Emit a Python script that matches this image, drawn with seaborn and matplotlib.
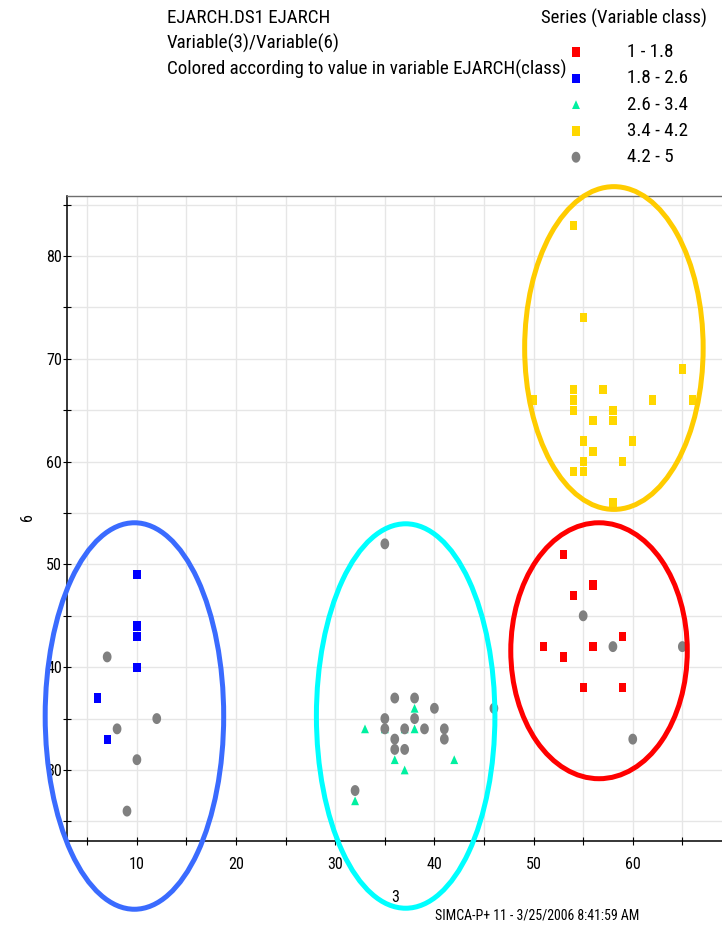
import matplotlib
matplotlib.use("Agg")
import matplotlib.pyplot as plt
from matplotlib import font_manager
from matplotlib.patches import Ellipse
from matplotlib.ticker import MultipleLocator
import numpy as np
import pandas as pd
import seaborn as sns

# EJARCH(class) bins
class_labels = ["1 - 1.8", "1.8 - 2.6", "2.6 - 3.4", "3.4 - 4.2", "4.2 - 5"]
class_colors = ["#ff0000", "#0000ff", "#00f0a0", "#ffd700", "#808080"]

# Variable(3) / Variable(6) observations per class
var3_c1 = [53, 56, 54, 59, 51, 56, 53, 55, 59]
var6_c1 = [51, 48, 47, 43, 42, 42, 41, 38, 38]

var3_c2 = [10, 10, 10, 10, 6, 7]
var6_c2 = [49, 44, 43, 40, 37, 33]

var3_c3 = [38, 33, 35, 37, 38, 36, 37, 42, 32]
var6_c3 = [36, 34, 34, 34, 34, 31, 30, 31, 27]

var3_c4 = [54, 55, 65, 54, 57, 50, 54, 62, 66, 54, 58, 56, 58, 55, 60, 56, 55, 59, 54, 55, 58]
var6_c4 = [83, 74, 69, 67, 67, 66, 66, 66, 66, 65, 65, 64, 64, 62, 62, 61, 60, 60, 59, 59, 56]

var3_c5 = [7, 12, 8, 10, 9, 35, 36, 38, 40, 46, 35, 38, 35, 37, 39, 41, 36, 41, 36, 37, 32, 55, 58, 65, 60]
var6_c5 = [41, 35, 34, 31, 26, 52, 37, 37, 36, 36, 35, 35, 34, 34, 34, 34, 33, 33, 32, 32, 28, 45, 42, 42, 33]

# group outlines (center x, center y, width, height)
group_cx = [9.75, 37.1, 56.6, 58.1]
group_cy = [35.25, 35.25, 41.6, 71.05]
group_w = [18.0, 18.0, 17.8, 18.0]
group_h = [37.6, 37.4, 24.9, 31.4]
group_colors = ["#3a6bff", "#00ffff", "#ff0000", "#ffcc00"]

header_lines = ["EJARCH.DS1 EJARCH", "Variable(3)/Variable(6)",
                "Colored according to value in variable EJARCH(class)"]
legend_title = "Series (Variable class)"
footer = "SIMCA-P+ 11 - 3/25/2006 8:41:59 AM"

# slightly tall marker shapes
_t = np.linspace(0, 2 * np.pi, 40, endpoint=False)
TALL_SQUARE = [(-0.39, -0.5), (0.39, -0.5), (0.39, 0.5), (-0.39, 0.5)]
TALL_TRIANGLE = [(0.0, 0.5), (-0.45, -0.5), (0.45, -0.5)]
TALL_CIRCLE = list(zip(0.4 * np.cos(_t), 0.5 * np.sin(_t)))
class_markers = [TALL_SQUARE, TALL_SQUARE, TALL_TRIANGLE, TALL_SQUARE, TALL_CIRCLE]
class_sizes = [44, 44, 40, 44, 62]

sns.set_theme(style="white")
_names = {f.name for f in font_manager.fontManager.ttflist}
FONT = next((n for n in ["Liberation Sans Narrow", "Arial Narrow", "Roboto Condensed",
                         "Pragati Narrow", "Archivo Narrow", "Liberation Sans"]
             if n in _names), "DejaVu Sans")
plt.rcParams["font.family"] = [FONT, "DejaVu Sans"]
plt.rcParams["text.color"] = "black"
plt.rcParams["axes.labelcolor"] = "black"

W, H = 722, 927
fig = plt.figure(figsize=(W / 100, H / 100), dpi=100)
fig.patch.set_facecolor("white")
ax = fig.add_axes([67 / W, 1 - 841 / H, (W - 67) / W, (841 - 196) / H])
ax.set_facecolor("white")

xs = [var3_c1, var3_c2, var3_c3, var3_c4, var3_c5]
ys = [var6_c1, var6_c2, var6_c3, var6_c4, var6_c5]
for lab, col, mk, sz, x, y in zip(class_labels, class_colors, class_markers,
                                  class_sizes, xs, ys):
    df = pd.DataFrame({"var3": x, "var6": y})
    sns.scatterplot(data=df, x="var3", y="var6", ax=ax, color=col, marker=mk,
                    s=sz, linewidth=0, edgecolor="none", label=lab, zorder=3)

for cx, cy, w, h, c in zip(group_cx, group_cy, group_w, group_h, group_colors):
    ax.add_patch(Ellipse((cx, cy), w, h, fill=False, edgecolor=c,
                         linewidth=3.6, clip_on=False, zorder=4))

ax.set_xlim(2.95, 69.0)
ax.set_ylim(23.09, 85.84)
ax.xaxis.set_major_locator(MultipleLocator(10))
ax.xaxis.set_minor_locator(MultipleLocator(5))
ax.yaxis.set_major_locator(MultipleLocator(10))
ax.yaxis.set_minor_locator(MultipleLocator(5))
ax.grid(True, which="both", color="#e6e6e6", linewidth=1.0, zorder=0)
ax.set_axisbelow(True)

ax.tick_params(axis="both", which="both", direction="inout", length=5.5,
               width=0.8, color="black", labelcolor="black",
               labelsize=10.5, bottom=True, left=True)
ax.tick_params(axis="x", which="both", pad=9.0)
ax.tick_params(axis="y", which="both", pad=0.8)

for side in ["left", "bottom"]:
    ax.spines[side].set_color("black")
    ax.spines[side].set_linewidth(1.1)
ax.spines["top"].set_color("#6e6e6e")
ax.spines["top"].set_linewidth(1.0)
ax.spines["right"].set_visible(False)

ax.set_xlabel("3", fontsize=10.5)
ax.set_ylabel("6", fontsize=10.5)

header_texts = [fig.text(167 / W, 1 - (18 + 25.5 * i) / H, line, ha="left",
                         va="center", fontsize=12)
                for i, line in enumerate(header_lines)]
title_text = fig.text(541 / W, 1 - 18 / H, legend_title, ha="left",
                      va="center", fontsize=12)
footer_text = fig.text(537 / W, 1 - 916 / H, footer, ha="center",
                       va="center", fontsize=8.75)

# size the text so its printed widths come out as wanted
fig.canvas.draw()
R = fig.canvas.get_renderer()


def width_px(artist):
    return artist.get_window_extent(R).width


fs_text = 12 * 398 / width_px(header_texts[2])
for t in header_texts:
    t.set_fontsize(fs_text)
title_text.set_fontsize(12 * 166 / width_px(title_text))
footer_text.set_fontsize(8.75 * 205 / width_px(footer_text))
tick60 = [t for t in ax.get_xticklabels() if t.get_text() == "60"][0]
fs_tick = 10.5 * 16.3 / width_px(tick60)
ax.tick_params(axis="both", which="both", labelsize=fs_tick)
ax.xaxis.label.set_fontsize(fs_tick)
ax.yaxis.label.set_fontsize(fs_tick)
ax.xaxis.set_label_coords((395 - 67) / (W - 67), (841 - 890) / (841 - 196))
ax.yaxis.set_label_coords((35 - 67) / (W - 67), (841 - 517) / (841 - 196))

em = fs_text * 100 / 72
hl, htp = 16 / em, 43 / em


def make_legend(anchor, spacing):
    return ax.legend(loc="upper left", bbox_to_anchor=anchor,
                     bbox_transform=fig.transFigure, frameon=False,
                     fontsize=fs_text, handlelength=hl, handletextpad=htp,
                     labelspacing=spacing, borderpad=0, borderaxespad=0)


anchor, spacing = [568 / W, 1 - 40 / H], 6 / em
leg = make_legend(tuple(anchor), spacing)
fig.canvas.draw()
ext = [t.get_window_extent(R) for t in leg.get_texts()]
pitch = (ext[0].y0 + ext[0].y1) / 2 - (ext[1].y0 + ext[1].y1) / 2
spacing += (26.3 - pitch) / em
leg = make_legend(tuple(anchor), spacing)
fig.canvas.draw()
e0 = leg.get_texts()[0].get_window_extent(R)
anchor[0] += (627 - e0.x0) / W
anchor[1] += ((H - 52) - (e0.y0 + e0.y1) / 2) / H
leg = make_legend(tuple(anchor), spacing)

fig.savefig("out.png", dpi=100)
